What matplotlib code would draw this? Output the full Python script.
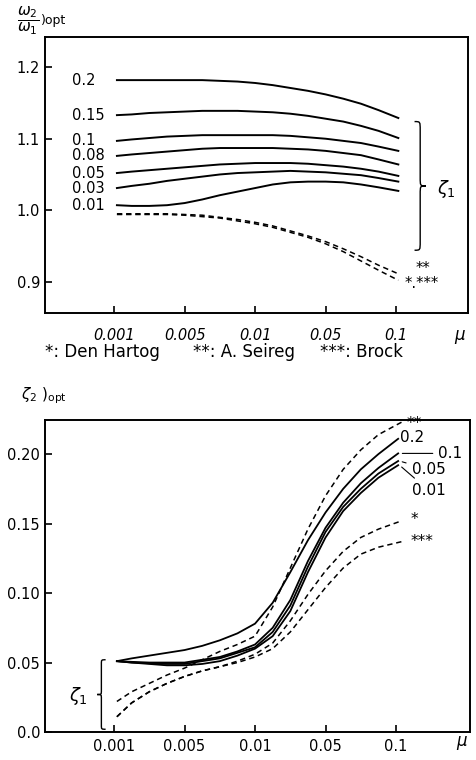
import matplotlib
matplotlib.use("Agg")
import matplotlib.pyplot as plt
from matplotlib.path import Path
from matplotlib.patches import PathPatch

plt.rcParams['font.family'] = ['DejaVu Sans']

# x-Achse: gleichabständige mu-Kategorien
mu_labels = ["0.001", "0.005", "0.01", "0.05", "0.1"]

# --- oben: (w2/w1)opt ---
x_top = [0.04, 0.25, 0.5, 0.75, 1, 1.25, 1.5, 1.75, 2, 2.25, 2.5, 2.75, 3, 3.25, 3.5, 3.75, 4.03]
zeta1_top = ["0.2", "0.15", "0.1", "0.08", "0.05", "0.03", "0.01"]
ratio_top = [
    [1.182, 1.182, 1.182, 1.182, 1.182, 1.182, 1.181, 1.180, 1.178, 1.175, 1.171, 1.167, 1.162, 1.156, 1.149, 1.140, 1.129],
    [1.133, 1.134, 1.136, 1.137, 1.138, 1.139, 1.139, 1.139, 1.138, 1.137, 1.135, 1.132, 1.128, 1.124, 1.118, 1.111, 1.101],
    [1.097, 1.099, 1.101, 1.103, 1.104, 1.105, 1.105, 1.105, 1.105, 1.105, 1.104, 1.102, 1.100, 1.097, 1.094, 1.089, 1.083],
    [1.076, 1.078, 1.080, 1.082, 1.084, 1.086, 1.087, 1.087, 1.087, 1.087, 1.086, 1.085, 1.083, 1.080, 1.077, 1.071, 1.064],
    [1.052, 1.054, 1.056, 1.058, 1.060, 1.062, 1.064, 1.065, 1.066, 1.066, 1.066, 1.065, 1.063, 1.061, 1.058, 1.054, 1.048],
    [1.031, 1.034, 1.037, 1.041, 1.044, 1.047, 1.050, 1.052, 1.053, 1.054, 1.055, 1.054, 1.053, 1.051, 1.049, 1.045, 1.040],
    [1.007, 1.006, 1.006, 1.007, 1.010, 1.015, 1.021, 1.026, 1.031, 1.036, 1.039, 1.040, 1.040, 1.039, 1.036, 1.032, 1.027],
]
ratio_seireg = [0.995, 0.995, 0.995, 0.995, 0.994, 0.993, 0.990, 0.987, 0.983, 0.978, 0.971, 0.964, 0.956, 0.946, 0.935, 0.923, 0.911]
ratio_hartog = [0.994, 0.994, 0.994, 0.994, 0.993, 0.991, 0.989, 0.985, 0.981, 0.976, 0.969, 0.962, 0.953, 0.942, 0.929, 0.916, 0.902]

# --- unten: zeta2 opt ---
x_bot = [0.04, 0.25, 0.5, 0.75, 1, 1.25, 1.5, 1.75, 2, 2.25, 2.5, 2.75, 3, 3.25, 3.5, 3.75, 4.03]
zeta1_bot = ["0.2", "0.1", "0.05", "0.01"]
zeta2_bot = [
    [0.051, 0.053, 0.055, 0.057, 0.059, 0.062, 0.066, 0.071, 0.078, 0.093, 0.115, 0.138, 0.158, 0.175, 0.189, 0.200, 0.211],
    [0.051, 0.0505, 0.050, 0.050, 0.050, 0.052, 0.054, 0.058, 0.063, 0.075, 0.095, 0.123, 0.147, 0.165, 0.179, 0.190, 0.2005],
    [0.051, 0.050, 0.0495, 0.049, 0.049, 0.051, 0.053, 0.057, 0.061, 0.072, 0.091, 0.119, 0.144, 0.162, 0.175, 0.186, 0.195],
    [0.051, 0.050, 0.049, 0.048, 0.048, 0.049, 0.051, 0.055, 0.060, 0.069, 0.087, 0.115, 0.140, 0.159, 0.172, 0.183, 0.192],
]
x_dash = [0.04, 0.25, 0.5, 0.75, 1, 1.25, 1.5, 1.75, 2, 2.25, 2.5, 2.75, 3, 3.25, 3.5, 3.75, 4.08]
zeta2_seireg = [0.022, 0.029, 0.035, 0.041, 0.046, 0.052, 0.058, 0.063, 0.069, 0.090, 0.118, 0.146, 0.170, 0.189, 0.203, 0.214, 0.223]
zeta2_hartog = [0.011, 0.021, 0.029, 0.035, 0.040, 0.044, 0.047, 0.051, 0.056, 0.064, 0.080, 0.099, 0.116, 0.130, 0.140, 0.146, 0.152]
zeta2_brock = [0.011, 0.021, 0.029, 0.035, 0.040, 0.044, 0.047, 0.050, 0.054, 0.060, 0.072, 0.088, 0.104, 0.118, 0.128, 0.133, 0.137]

DASH = (0, (3.5, 2.5))


def brace(ax, x, y0, y1, w, q):
    # geschweifte Klammer, w>0 -> "}", w<0 -> "{"
    ym = (y0 + y1) / 2
    xb = x + w / 2
    verts = [(x, y1), (xb, y1), (xb, y1), (xb, y1 - q),
             (xb, ym + q),
             (xb, ym), (xb, ym), (x + w, ym),
             (xb, ym), (xb, ym), (xb, ym - q),
             (xb, y0 + q),
             (xb, y0), (xb, y0), (x, y0)]
    codes = [Path.MOVETO, Path.CURVE4, Path.CURVE4, Path.CURVE4,
             Path.LINETO,
             Path.CURVE4, Path.CURVE4, Path.CURVE4,
             Path.CURVE4, Path.CURVE4, Path.CURVE4,
             Path.LINETO,
             Path.CURVE4, Path.CURVE4, Path.CURVE4]
    ax.add_patch(PathPatch(Path(verts, codes), fill=False, lw=1.0,
                           color="black", clip_on=False))


def style_axes(ax, italic, pad, mu_y):
    ax.set_xticks(range(len(mu_labels)))
    ax.set_xticklabels(mu_labels, style="italic" if italic else "normal")
    ax.tick_params(direction="in", length=5, width=1.2, labelsize=10.5)
    ax.tick_params(axis="x", pad=pad)
    for s in ax.spines.values():
        s.set_linewidth(1.4)
    ax.text(0.995, mu_y, r"$\mu$", transform=ax.transAxes, ha="right",
            va="center", fontsize=12)


fig = plt.figure(figsize=(4.76, 7.6), dpi=100)

# ---------------- oben ----------------
ax1 = fig.add_axes([0.0945, 0.588, 0.889, 0.363])
for lab, ys in zip(zeta1_top, ratio_top):
    ax1.plot(x_top, ys, color="black", lw=1.4)
    ax1.text(-0.6, ys[0], lab, ha="left", va="center", fontsize=10.5)
ax1.plot(x_top, ratio_seireg, color="black", lw=1.1, ls=DASH)
ax1.plot(x_top, ratio_hartog, color="black", lw=1.1, ls=DASH)
ax1.text(4.28, 0.918, "**", fontsize=10.5, va="center")
ax1.text(4.12, 0.898, "*.***", fontsize=10.5, va="center")
brace(ax1, 4.26, 0.944, 1.124, 0.16, 0.012)
ax1.text(4.58, 1.03, r"$\zeta_1$", fontsize=13, va="center")
ax1.set_xlim(-0.98, 5.02)
ax1.set_ylim(0.856, 1.242)
ax1.set_yticks([0.9, 1.0, 1.1, 1.2])
ax1.set_yticklabels(["0.9", "1.0", "1.1", "1.2"])
style_axes(ax1, True, 11, -0.085)
fig.text(0.036, 0.972, r"$\dfrac{\omega_2}{\omega_1}$", fontsize=11, va="center")
fig.text(0.086, 0.973, ")opt", fontsize=9, va="center")

fig.text(0.095, 0.537, "*: Den Hartog", ha="left", va="center", fontsize=12)
fig.text(0.405, 0.537, "**: A. Seireg", ha="left", va="center", fontsize=12)
fig.text(0.672, 0.537, "***: Brock", ha="left", va="center", fontsize=12)

# ---------------- unten ----------------
ax2 = fig.add_axes([0.0945, 0.0368, 0.893, 0.4105])
for lab, ys in zip(zeta1_bot, zeta2_bot):
    ax2.plot(x_bot, ys, color="black", lw=1.3)
ax2.plot(x_dash, zeta2_seireg, color="black", lw=1.1, ls=DASH)
ax2.plot(x_dash, zeta2_hartog, color="black", lw=1.1, ls=DASH)
ax2.plot(x_dash, zeta2_brock, color="black", lw=1.1, ls=DASH)

ax2.text(4.05, 0.212, zeta1_bot[0], fontsize=11, va="center")
ax2.annotate(zeta1_bot[1], xy=(4.05, zeta2_bot[1][-1]), xytext=(4.6, 0.2005),
             fontsize=11, va="center",
             arrowprops=dict(arrowstyle="-", lw=0.8, color="black"))
ax2.annotate(zeta1_bot[2], xy=(4.05, zeta2_bot[2][-1]), xytext=(4.22, 0.189),
             fontsize=11, va="center",
             arrowprops=dict(arrowstyle="-", lw=0.8, color="black"))
ax2.annotate(zeta1_bot[3], xy=(4.05, zeta2_bot[3][-1]), xytext=(4.22, 0.174),
             fontsize=11, va="center",
             arrowprops=dict(arrowstyle="-", lw=0.8, color="black"))
ax2.text(4.15, 0.222, "**", fontsize=11, va="center")
ax2.text(4.2, 0.153, "*", fontsize=11, va="center")
ax2.text(4.2, 0.137, "***", fontsize=11, va="center")

brace(ax2, -0.12, 0.002, 0.052, -0.12, 0.003)
ax2.text(-0.5, 0.026, r"$\zeta_1$", fontsize=13, va="center", ha="center")

ax2.set_xlim(-0.98, 5.05)
ax2.set_ylim(0.0, 0.2245)
ax2.set_yticks([0.0, 0.05, 0.10, 0.15, 0.20])
ax2.set_yticklabels(["0.0", "0.05", "0.10", "0.15", "0.20"])
style_axes(ax2, False, 5, -0.035)
fig.text(0.045, 0.48, r"$\zeta_2$ )$_{\rm opt}$", fontsize=11, va="center")

fig.savefig("out.png", dpi=100)
